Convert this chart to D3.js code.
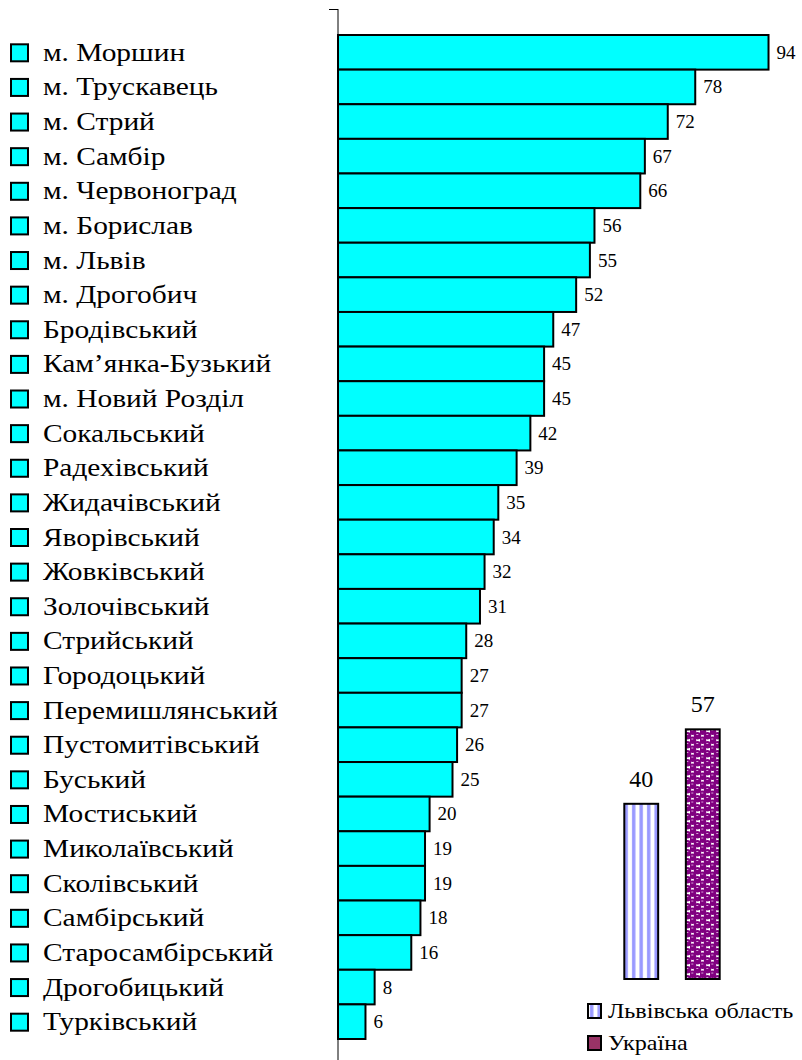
<!DOCTYPE html>
<html>
<head>
<meta charset="utf-8">
<script src="https://cdn.jsdelivr.net/npm/d3@7"></script>
<style>
  body { margin: 0; background: #fff; }
  svg { display: block; }
  text { font-family: 'Liberation Serif', 'DejaVu Serif', serif; }
</style>
</head>
<body>
<div id="chart"></div>
<script>
const districts = ["м. Моршин", "м. Трускавець", "м. Стрий", "м. Самбір", "м. Червоноград",
  "м. Борислав", "м. Львів", "м. Дрогобич", "Бродівський", "Кам’янка-Бузький",
  "м. Новий Розділ", "Сокальський", "Радехівський", "Жидачівський", "Яворівський",
  "Жовківський", "Золочівський", "Стрийський", "Городоцький", "Перемишлянський",
  "Пустомитівський", "Буський", "Мостиський", "Миколаївський", "Сколівський",
  "Самбірський", "Старосамбірський", "Дрогобицький", "Турківський"]
const values = [94, 78, 72, 67, 66, 56, 55, 52, 47, 45, 45, 42, 39, 35, 34, 32, 31, 28,
  27, 27, 26, 25, 20, 19, 19, 18, 16, 8, 6]

const totals = ["Львівська область", "Україна"]
const totalValues = [40, 57]

const width = 802, height = 1060
const serif = "Liberation Serif, DejaVu Serif, serif"

const svg = d3.select('#chart')
    .append('svg')
    .attr('width', width)
    .attr('height', height)
    .attr('font-family', serif)

const defs = svg.append('defs')

// vertical stripes for the region bar
const stripes = defs.append('pattern')
    .attr('id', 'stripes')
    .attr('patternUnits', 'userSpaceOnUse')
    .attr('width', 7.5).attr('height', 10)
stripes.append('rect').attr('width', 7.5).attr('height', 10).attr('fill', '#fff')
stripes.append('rect').attr('x', 2).attr('width', 3.4).attr('height', 10).attr('fill', '#9999ff')

// purple "spheres" pattern for Ukraine
const spheres = defs.append('pattern')
    .attr('id', 'spheres')
    .attr('patternUnits', 'userSpaceOnUse')
    .attr('width', 10).attr('height', 9)
spheres.append('rect').attr('width', 10).attr('height', 9).attr('fill', '#fff')
const centres = [[2.5, 2.25], [7.5, 6.75], [7.5, -2.25], [-2.5, 6.75], [12.5, 6.75], [7.5, 11.25], [2.5, 11.25], [12.5, -2.25], [-2.5, -2.25]]
spheres.selectAll('circle')
    .data(centres)
    .join('circle')
    .attr('cx', d => d[0]).attr('cy', d => d[1])
    .attr('r', 3.7)
    .attr('fill', '#800080')
spheres.append('rect').attr('x', 1.3).attr('y', 0.6).attr('width', 2).attr('height', 0.9).attr('fill', '#e0b0e0')
spheres.append('rect').attr('x', 6.3).attr('y', 5.1).attr('width', 2).attr('height', 0.9).attr('fill', '#e0b0e0')

// main horizontal bars
const x = d3.scaleLinear()
    .domain([0, 100])
    .range([338, 338 + 458])
const y = d3.scaleBand()
    .domain(districts)
    .range([35, 1039])
    .padding(0)

svg.append('line')
    .attr('x1', x(0)).attr('x2', x(0))
    .attr('y1', 9).attr('y2', height)
    .attr('stroke', '#000').attr('stroke-width', 1)
svg.append('line')
    .attr('x1', x(0) - 9).attr('x2', x(0))
    .attr('y1', 9.5).attr('y2', 9.5)
    .attr('stroke', '#000').attr('stroke-width', 1)

const rows = districts.map((d, i) => ({ name: d, value: values[i] }))

svg.append('g')
    .selectAll('rect')
    .data(rows)
    .join('rect')
    .attr('x', x(0))
    .attr('y', d => y(d.name))
    .attr('width', d => x(d.value) - x(0))
    .attr('height', y.bandwidth())
    .attr('fill', '#00ffff')
    .attr('stroke', '#000')
    .attr('stroke-width', 2)

svg.append('g')
    .selectAll('text')
    .data(rows)
    .join('text')
    .attr('x', d => x(d.value) + 8)
    .attr('y', d => y(d.name) + y.bandwidth() / 2 + 6.5)
    .attr('font-size', 19)
    .text(d => d.value)

// left legend
const legend = svg.append('g')
    .selectAll('g')
    .data(rows)
    .join('g')
    .attr('transform', d => `translate(0,${y(d.name) + y.bandwidth() / 2})`)
legend.append('rect')
    .attr('x', 11).attr('y', -8)
    .attr('width', 17).attr('height', 17)
    .attr('fill', '#00ffff')
    .attr('stroke', '#000')
    .attr('stroke-width', 2)
legend.append('text')
    .attr('transform', 'translate(43,8.5) scale(1.2,1)')
    .attr('font-size', 24.5)
    .text(d => d.name)

// region vs Ukraine
const x2 = d3.scaleBand()
    .domain(totals)
    .range([612, 732])
    .paddingInner(0.45)
    .paddingOuter(0.2)
const y2 = d3.scaleLinear()
    .domain([0, 60])
    .range([979, 979 - 60 * 4.38])
const fills = ['url(#stripes)', 'url(#spheres)']

svg.append('g')
    .selectAll('rect')
    .data(totals)
    .join('rect')
    .attr('x', d => x2(d))
    .attr('y', (d, i) => y2(totalValues[i]))
    .attr('width', x2.bandwidth())
    .attr('height', (d, i) => y2(0) - y2(totalValues[i]))
    .attr('fill', (d, i) => fills[i])
    .attr('stroke', '#000')
    .attr('stroke-width', 2)

svg.append('g')
    .selectAll('text')
    .data(totals)
    .join('text')
    .attr('x', d => x2(d) + x2.bandwidth() / 2)
    .attr('y', (d, i) => y2(totalValues[i]) - 17)
    .attr('text-anchor', 'middle')
    .attr('font-size', 24)
    .text((d, i) => totalValues[i])

// bottom-right legend
const legendFills = ['url(#stripes)', '#993366']
const legend2 = svg.append('g')
    .selectAll('g')
    .data(totals)
    .join('g')
    .attr('transform', (d, i) => `translate(588,${1011 + i * 32})`)
legend2.append('rect')
    .attr('x', 0).attr('y', -7)
    .attr('width', 13).attr('height', 14)
    .attr('fill', (d, i) => legendFills[i])
    .attr('stroke', '#000')
    .attr('stroke-width', 2)
legend2.append('text')
    .attr('transform', 'translate(20,7) scale(1.15,1)')
    .attr('font-size', 21)
    .text(d => d)
</script>
</body>
</html>
